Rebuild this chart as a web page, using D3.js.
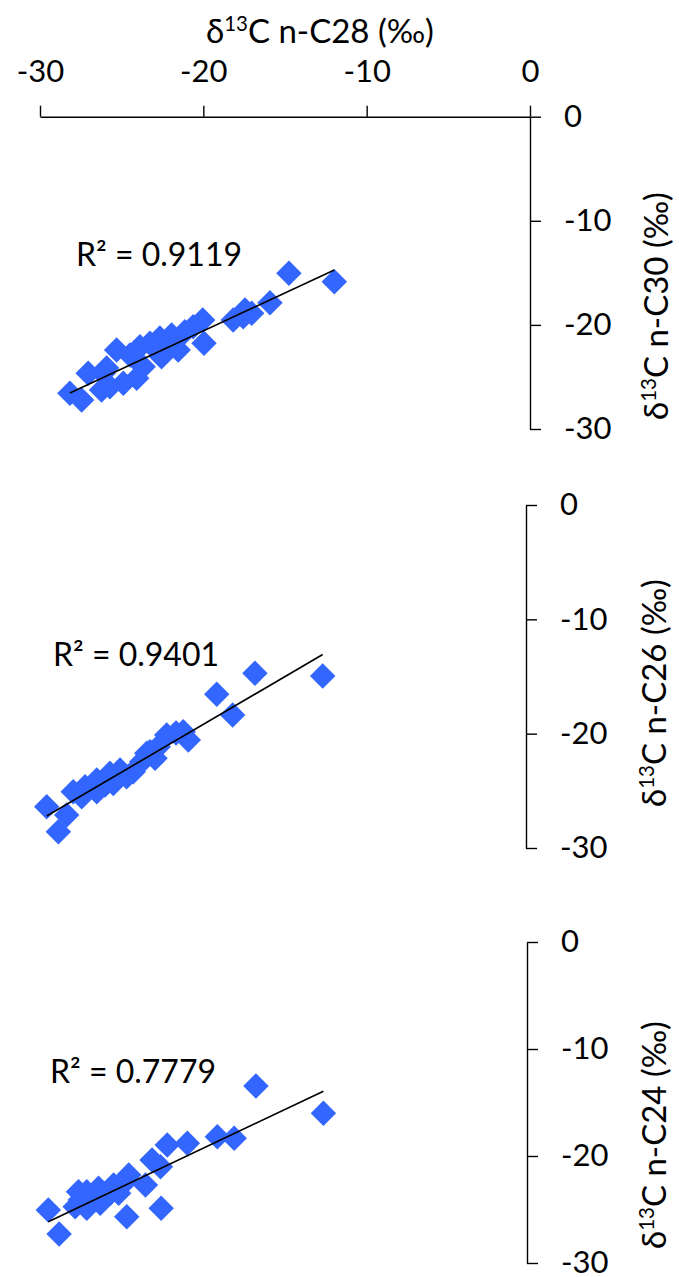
<!DOCTYPE html>
<html>
<head>
<meta charset="utf-8">
<script src="https://cdn.jsdelivr.net/npm/d3@7"></script>
<style>
  html, body { margin: 0; padding: 0; background: #fff; }
  svg { display: block; }
  text { font-family: Lato, "Open Sans", sans-serif; fill: #000; }
</style>
</head>
<body>
<svg id="chart" width="679" height="1277"></svg>
<script>
// ---------- data ----------
const xTicks = [-30, -20, -10, 0];
const yTicks = [0, -10, -20, -30];
const xTitle = "n-C28";
const yTitles = ["n-C30", "n-C26", "n-C24"];
const r2Labels = ["R\u00B2 = 0.9119", "R\u00B2 = 0.9401", "R\u00B2 = 0.7779"];

// panel 1: n-C28 vs n-C30
const c28_p1 = [-14.76, -11.98, -15.92, -17.04, -17.45, -18.17, -17.56, -20.04, -19.96, -21.13,
                -21.54, -22.05, -22.66, -23.27, -23.88, -25.31, -24.49, -23.68, -24.08, -24.90,
                -27.05, -26.13, -26.23, -25.72, -28.17, -27.45, -25.92, -22.56, -21.94, -20.62];
const c30_p1 = [-15.04, -15.85, -17.87, -18.89, -18.57, -19.53, -19.21, -19.53, -21.77, -20.65,
                -22.41, -21.45, -21.26, -21.77, -22.09, -22.41, -22.89, -24.02, -25.13, -25.61,
                -24.65, -24.65, -26.25, -25.94, -26.57, -27.21, -24.14, -23.05, -20.97, -20.17];

// panel 2: n-C28 vs n-C26
const c28_p2 = [-16.04, -12.03, -18.30, -17.36, -20.28, -21.26, -19.98, -20.71, -21.76, -22.25,
                -21.95, -22.74, -22.44, -23.24, -23.63, -24.02, -24.42, -24.62, -24.91, -25.40,
                -25.40, -26.09, -26.79, -26.29, -28.36, -27.18, -27.67];
const c26_p2 = [-14.72, -14.96, -16.56, -18.37, -19.83, -20.12, -20.56, -19.95, -21.15, -21.58,
                -22.16, -22.46, -21.72, -23.33, -23.77, -23.18, -24.35, -23.47, -24.50, -24.06,
                -25.08, -24.65, -25.08, -25.52, -26.39, -27.12, -28.58];

// panel 3: n-C28 vs n-C24
const c28_p3 = [-16.07, -12.07, -18.36, -17.36, -20.14, -21.33, -22.23, -21.73, -22.62, -23.61,
                -23.81, -24.51, -24.70, -25.40, -25.70, -26.10, -26.59, -26.79, -26.10, -26.49,
                -28.38, -27.74, -23.73, -21.69, -25.30, -24.21];
const c24_p3 = [-13.46, -16.01, -18.20, -18.35, -18.81, -18.97, -20.37, -21.00, -22.71, -21.78,
                -22.40, -22.71, -23.49, -23.02, -23.95, -23.34, -23.34, -24.74, -24.89, -24.11,
                -25.05, -27.29, -25.67, -24.89, -24.42, -23.49];

// linear trend lines (slope, intercept)
const trendSlope = [0.73, 0.865, 0.748];
const trendIntercept = [-5.98, -2.67, -4.92];

// ---------- layout ----------
const panels = [
  { xs: c28_p1, ys: c30_p1, xr: [40, 530], yr: [116.7, 429], r2: [76, 266], titleX: 668, titleY: 306, showX: true },
  { xs: c28_p2, ys: c26_p2, xr: [19, 526], yr: [505, 848], r2: [53, 666], titleX: 666, titleY: 693, showX: false },
  { xs: c28_p3, ys: c24_p3, xr: [21, 527], yr: [942, 1263], r2: [50, 1083], titleX: 666, titleY: 1135, showX: false }
];

const svg = d3.select("#chart");
const FS = 31;      // tick labels
const FT = 33;      // axis titles
const FR = 32;      // R² labels
const diamond = d3.symbol().type(d3.symbolSquare).size(18 * 18);

function styleAxis(g) {
  g.select(".domain").attr("stroke", "#000").attr("stroke-width", 1.4);
  g.selectAll(".tick line").attr("stroke", "#000").attr("stroke-width", 1.4);
  g.selectAll(".tick text").attr("font-size", FS).attr("font-family", "Lato, sans-serif").attr("fill", "#000");
}

function addTitle(sel, name) {
  sel.append("tspan").text("\u03B4");
  sel.append("tspan").attr("font-size", FT * 0.62).attr("dy", -12).text("13");
  sel.append("tspan").attr("dy", 12).text("C " + name + " (\u2030)");
}

panels.forEach((p, i) => {
  const x = d3.scaleLinear().domain([-30, 0]).range(p.xr);
  const y = d3.scaleLinear().domain([0, -30]).range(p.yr);
  const g = svg.append("g");

  // y axis (right side, at x = 0)
  const yAx = g.append("g")
    .attr("transform", `translate(${x(0)},0)`)
    .call(d3.axisRight(y).tickValues(yTicks).tickSize(11).tickSizeOuter(0).tickPadding(23));
  styleAxis(yAx);
  yAx.selectAll(".tick text").text(d => d === 0 ? "0" : "-" + Math.abs(d));

  // x axis on top (only first panel)
  if (p.showX) {
    const xAx = g.append("g")
      .attr("transform", `translate(0,${y(0)})`)
      .call(d3.axisTop(x).tickValues(xTicks).tickSize(11).tickSizeOuter(0).tickPadding(24));
    styleAxis(xAx);
    xAx.selectAll(".tick text").text(d => d === 0 ? "0" : "-" + Math.abs(d));

    const t = svg.append("text")
      .attr("x", 320)
      .attr("y", 43)
      .attr("text-anchor", "middle")
      .attr("font-size", FT);
    addTitle(t, xTitle);
  }

  // y title
  const yt = svg.append("text")
    .attr("transform", `translate(${p.titleX},${p.titleY}) rotate(-90)`)
    .attr("text-anchor", "middle")
    .attr("font-size", FT);
  addTitle(yt, yTitles[i]);

  // points
  const pts = p.xs.map((v, k) => ({ x: v, y: p.ys[k] }));
  g.append("g").selectAll("path")
    .data(pts).join("path")
    .attr("d", diamond)
    .attr("transform", d => `translate(${x(d.x)},${y(d.y)}) rotate(45)`)
    .attr("fill", "#3366ff");

  // trend line
  const xmin = d3.min(p.xs), xmax = d3.max(p.xs);
  const line = [xmin, xmax].map(v => ({ x: v, y: trendSlope[i] * v + trendIntercept[i] }));
  g.append("path")
    .datum(line)
    .attr("d", d3.line().x(d => x(d.x)).y(d => y(d.y)))
    .attr("stroke", "#000").attr("stroke-width", 1.6).attr("fill", "none");

  // R² label
  g.append("text")
    .attr("x", p.r2[0]).attr("y", p.r2[1])
    .attr("font-size", FR)
    .text(r2Labels[i]);
});
</script>
</body>
</html>
